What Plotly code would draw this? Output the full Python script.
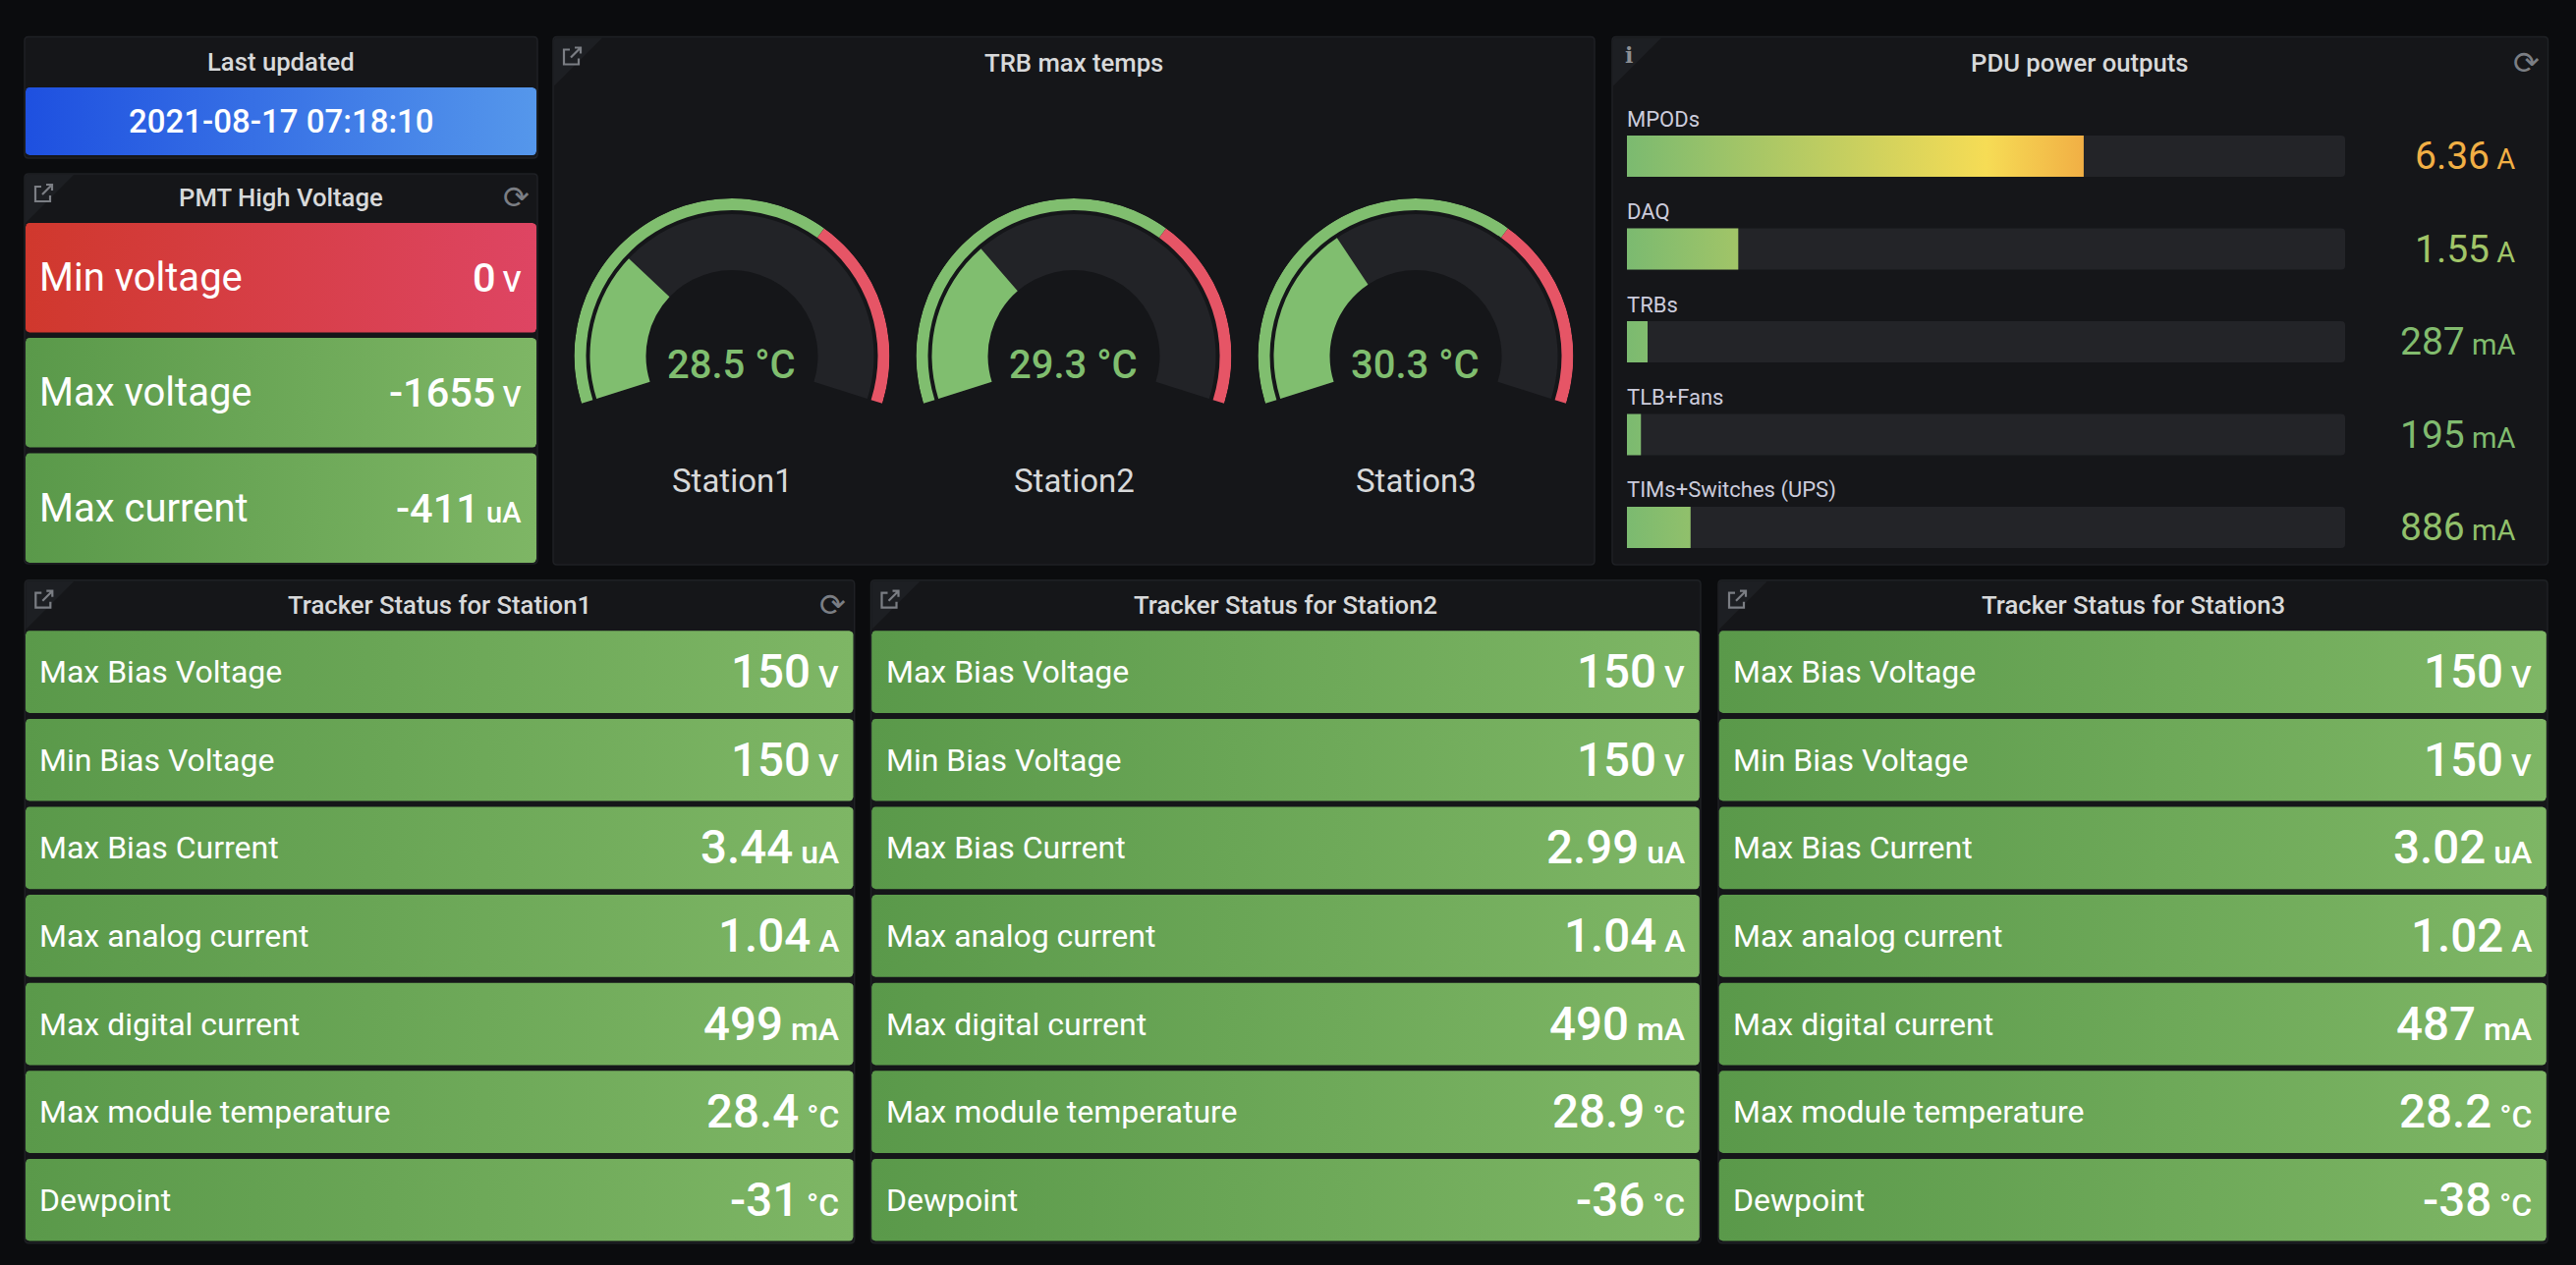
import math
import plotly.graph_objects as go
from plotly.colors import sample_colorscale

W, H = 2622, 1288

# ---------------- data ----------------
last_updated = "2021-08-17 07:18:10"

pmt_labels = ["Min voltage", "Max voltage", "Max current"]
pmt_values = [0, -1655, -411]
pmt_units = ["V", "V", "uA"]
pmt_status = ["red", "green", "green"]

trb_stations = ["Station1", "Station2", "Station3"]
trb_temps = [28.5, 29.3, 30.3]
trb_min, trb_max, trb_threshold = 20, 50, 40

pdu_labels = ["MPODs", "DAQ", "TRBs", "TLB+Fans", "TIMs+Switches (UPS)"]
pdu_amps = [6.36, 1.55, 0.287, 0.195, 0.886]
pdu_min, pdu_max = 0, 10

tracker_stations = ["Station1", "Station2", "Station3"]
tracker_labels = ["Max Bias Voltage", "Min Bias Voltage", "Max Bias Current",
                  "Max analog current", "Max digital current",
                  "Max module temperature", "Dewpoint"]
tracker_units = ["V", "V", "uA", "A", "mA", "°C", "°C"]
tracker_station1 = [150, 150, 3.44, 1.04, 499, 28.4, -31]
tracker_station2 = [150, 150, 2.99, 1.04, 490, 28.9, -36]
tracker_station3 = [150, 150, 3.02, 1.02, 487, 28.2, -38]
tracker_values = [tracker_station1, tracker_station2, tracker_station3]

# ---------------- style ----------------
PAGE_BG = "#0b0c0e"
PANEL_BG = "#151619"
PANEL_BORDER = "#1f2125"
CORNER_BG = "#1d1f23"
TITLE_C = "#d8d9da"
ICON_C = "#7b7e84"
FONT = "Roboto"
GRAD = {
    "green": ["#5A994A", "#7EB665"],
    "red": ["#D0382D", "#DE4563"],
    "blue": ["#1E50E0", "#5597EB"],
}
G_GREEN = "#80BE6F"
G_RED = "#E65566"
G_TRACK = "#222327"
PDU_TRACK = "#232428"
PDU_SCALE = [[0.0, "#7BBA70"], [0.5, "#F6DC55"], [0.7, "#EF9A3D"], [1.0, "#E8566A"]]


def px(x):
    return x / W


def py(y):
    return 1 - y / H


fig = go.Figure()
shapes = []
annotations = []


def text(x, y, s, size, color="#ffffff", anchor="center", weight=400, family=FONT):
    # pixel coordinates on the full-page base axes
    annotations.append(dict(x=x, y=y, xref="x", yref="y", text=s, showarrow=False,
                            xanchor=anchor, yanchor="middle",
                            font=dict(family=family, size=size, color=color, weight=weight)))


def rpath(x0, y0, x1, y1, r):
    return (f"M{x0+r},{y0} L{x1-r},{y0} Q{x1},{y0} {x1},{y0+r} L{x1},{y1-r} "
            f"Q{x1},{y1} {x1-r},{y1} L{x0+r},{y1} Q{x0},{y1} {x0},{y1-r} "
            f"L{x0},{y0+r} Q{x0},{y0} {x0+r},{y0} Z")


def panel(x0, y0, x1, y1, title, ty, corner=None, refresh=False):
    shapes.append(dict(type="path", path=rpath(x0, y0, x1, y1, 4), xref="x", yref="y",
                       fillcolor=PANEL_BG, line=dict(color=PANEL_BORDER, width=1.5),
                       layer="below"))
    if corner:
        shapes.append(dict(type="path",
                           path=f"M{x0+2},{y0+1} L{x0+50},{y0+1} L{x0+1},{y0+50} L{x0+1},{y0+3} Z",
                           xref="x", yref="y", fillcolor=CORNER_BG, line=dict(width=0),
                           layer="below"))
        if corner == "link":
            ix, iy = x0 + 10, y0 + 10
            shapes.append(dict(type="path",
                               path=f"M{ix+7},{iy+3} L{ix+1},{iy+3} L{ix+1},{iy+18} L{ix+16},{iy+18} L{ix+16},{iy+12}",
                               xref="x", yref="y", line=dict(color=ICON_C, width=2.2)))
            shapes.append(dict(type="path",
                               path=f"M{ix+8},{iy+11} L{ix+18},{iy+1} M{ix+12},{iy+1} L{ix+18},{iy+1} L{ix+18},{iy+7}",
                               xref="x", yref="y", line=dict(color=ICON_C, width=2.2)))
        else:
            text(x0 + 17, y0 + 18, "i", 22, color="#8e9094", weight="bold",
                 family="DejaVu Serif")
    if refresh:
        text(x1 - 22, ty, "⟳", 32, color=ICON_C, family="DejaVu Sans")
    text((x0 + x1) / 2, ty, title, 25.7, color=TITLE_C, weight=500)


def rounded_pts(x0, y0, x1, y1, r=4, n=4):
    xs, ys = [], []
    corners = [(x1 - r, y0 + r, -90, 0), (x1 - r, y1 - r, 0, 90),
               (x0 + r, y1 - r, 90, 180), (x0 + r, y0 + r, 180, 270)]
    for cx, cy, a0, a1 in corners:
        for k in range(n + 1):
            a = math.radians(a0 + (a1 - a0) * k / n)
            xs.append(cx + r * math.cos(a))
            ys.append(cy + r * math.sin(a))
    xs.append(xs[0])
    ys.append(ys[0])
    return xs, ys


def stat_box(x0, y0, x1, y1, status):
    xs, ys = rounded_pts(x0, y0, x1, y1)
    c0, c1 = GRAD[status]
    fig.add_trace(go.Scatter(x=xs, y=ys, mode="lines", fill="toself",
                             line=dict(width=0, color=c1),
                             fillgradient=dict(type="horizontal",
                                               colorscale=[[0, c0], [1, c1]]),
                             hoverinfo="skip", showlegend=False,
                             xaxis="x", yaxis="y"))


def fmt(v):
    return f"{v:g}"


# ---------------- Last updated ----------------
panel(25, 37.5, 547, 161, "Last updated", 63)
stat_box(26, 89, 546, 158, "blue")
text(286, 123, last_updated, 33, weight=500)

# ---------------- PMT High Voltage ----------------
panel(25, 177, 547, 574, "PMT High Voltage", 201, corner="link", refresh=True)
pmt_tops = [227, 344, 461.5]
for lab, val, unit, st, top in zip(pmt_labels, pmt_values, pmt_units, pmt_status, pmt_tops):
    stat_box(26, top, 546, top + 111.5, st)
    cy = top + 55.5
    text(38, cy, lab, 40, anchor="left")
    text(533, cy, f"{fmt(val)}<span style='font-size:29px'> {unit}</span>", 41.5,
         anchor="right", weight=500)

# ---------------- TRB max temps (gauges) ----------------
panel(563, 37.5, 1623, 575, "TRB max temps", 64, corner="link")
SPAN = 215.0
R_OUT = 160.5
G_CY = 362.5
gauge_cx = [745, 1093, 1441]
for i, (st, t) in enumerate(zip(trb_stations, trb_temps)):
    cx = gauge_cx[i]
    pid = "polar" if i == 0 else f"polar{i+1}"
    frac = (t - trb_min) / (trb_max - trb_min)
    tfrac = (trb_threshold - trb_min) / (trb_max - trb_min)
    fig.add_trace(go.Barpolar(r=[57], base=[87.5], theta=[SPAN / 2], width=[SPAN],
                              marker=dict(color=G_TRACK, line=dict(width=0)),
                              hoverinfo="skip", showlegend=False, subplot=pid))
    fig.add_trace(go.Barpolar(r=[57], base=[87.5], theta=[frac * SPAN / 2], width=[frac * SPAN],
                              marker=dict(color=G_GREEN, line=dict(width=0)),
                              hoverinfo="skip", showlegend=False, subplot=pid))
    fig.add_trace(go.Barpolar(r=[12], base=[148.5], theta=[tfrac * SPAN / 2], width=[tfrac * SPAN],
                              marker=dict(color=G_GREEN, line=dict(width=0)),
                              hoverinfo="skip", showlegend=False, subplot=pid))
    fig.add_trace(go.Barpolar(r=[12], base=[148.5],
                              theta=[tfrac * SPAN + (1 - tfrac) * SPAN / 2],
                              width=[(1 - tfrac) * SPAN],
                              marker=dict(color=G_RED, line=dict(width=0)),
                              hoverinfo="skip", showlegend=False, subplot=pid))
    fig.update_layout({pid: dict(
        domain=dict(x=[px(cx - R_OUT), px(cx + R_OUT)],
                    y=[py(G_CY + R_OUT), py(G_CY - R_OUT)]),
        bgcolor="rgba(0,0,0,0)", hole=0, sector=[0, 360],
        radialaxis=dict(visible=False, range=[0, R_OUT]),
        angularaxis=dict(visible=False, rotation=90 + SPAN / 2, direction="clockwise",
                         thetaunit="degrees"),
    )})
    text(cx - 1, 371, f"{t:.1f} °C", 40, color=G_GREEN, weight=500)
    text(cx, 489, st, 33, color=TITLE_C)

# ---------------- PDU power outputs ----------------
panel(1641, 37.5, 2593.5, 575, "PDU power outputs", 64, corner="info", refresh=True)
rows = list(range(len(pdu_labels)))
BAR_H = 0.444
fig.add_trace(go.Bar(x=[pdu_max] * len(rows), y=rows, orientation="h", width=BAR_H,
                     marker=dict(color=PDU_TRACK, line=dict(width=0), cornerradius=4),
                     hoverinfo="skip", showlegend=False, xaxis="x2", yaxis="y2"))
ROW_TOP, ROW_PITCH = 159, 94.5
for i, (lab, v) in enumerate(zip(pdu_labels, pdu_amps)):
    fig.add_trace(go.Scatter(x=[pdu_min, v, v, pdu_min, pdu_min],
                             y=[i - BAR_H / 2, i - BAR_H / 2, i + BAR_H / 2, i + BAR_H / 2, i - BAR_H / 2],
                             mode="lines", fill="toself", line=dict(width=0),
                             fillgradient=dict(type="horizontal", colorscale=PDU_SCALE,
                                               start=pdu_min, stop=pdu_max),
                             hoverinfo="skip", showlegend=False, xaxis="x2", yaxis="y2"))
    yc = ROW_TOP + i * ROW_PITCH
    text(1654, yc - 38, lab, 22, color="#ccccdc", anchor="left")
    if v < 1:
        vt, ut = f"{v*1000:.0f}", "mA"
    else:
        vt, ut = f"{v:.2f}", "A"
    col = sample_colorscale(PDU_SCALE, [(v - pdu_min) / (pdu_max - pdu_min)])[0]
    text(2562, yc, f"{vt}<span style='font-size:29px'> {ut}</span>", 39, color=col,
         anchor="right")

# ---------------- Tracker status panels ----------------
tp_x = [(25.3, 869.7), (886.5, 1731), (1749, 2593)]
BOX_TOP, BOX_PITCH, BOX_H = 642.3, 89.6, 83.7
for p, (st, vals) in enumerate(zip(tracker_stations, tracker_values)):
    x0, x1 = tp_x[p]
    panel(x0, 590.7, x1, 1265.7, f"Tracker Status for {st}", 616, corner="link",
          refresh=(p == 0))
    for k, (lab, unit, v) in enumerate(zip(tracker_labels, tracker_units, vals)):
        top = BOX_TOP + k * BOX_PITCH
        stat_box(x0 + 0.7, top, x1 - 1.2, top + BOX_H, "green")
        cy = top + BOX_H / 2
        text(x0 + 13, cy, lab, 32, anchor="left")
        text(x1 - 14, cy, f"{fmt(v)}<span style='font-size:32px'> {unit}</span>", 47.5,
             anchor="right", weight=500)

fig.update_layout(
    width=W, height=H, margin=dict(l=0, r=0, t=0, b=0),
    paper_bgcolor=PAGE_BG, plot_bgcolor="rgba(0,0,0,0)",
    showlegend=False, barmode="overlay",
    xaxis=dict(domain=[0, 1], range=[0, W], visible=False, fixedrange=True),
    yaxis=dict(domain=[0, 1], range=[H, 0], visible=False, fixedrange=True),
    xaxis2=dict(domain=[px(1656), px(2387)], range=[pdu_min, pdu_max], visible=False,
                fixedrange=True, anchor="y2"),
    yaxis2=dict(domain=[py(ROW_TOP + 4.5 * ROW_PITCH), py(ROW_TOP - 0.5 * ROW_PITCH)],
                range=[len(rows) - 0.5, -0.5], visible=False, fixedrange=True, anchor="x2"),
    shapes=shapes, annotations=annotations,
)

fig.write_html("out.html", config={"displayModeBar": False},
               post_script="document.body.style.margin='0';document.body.style.overflow='hidden';")
